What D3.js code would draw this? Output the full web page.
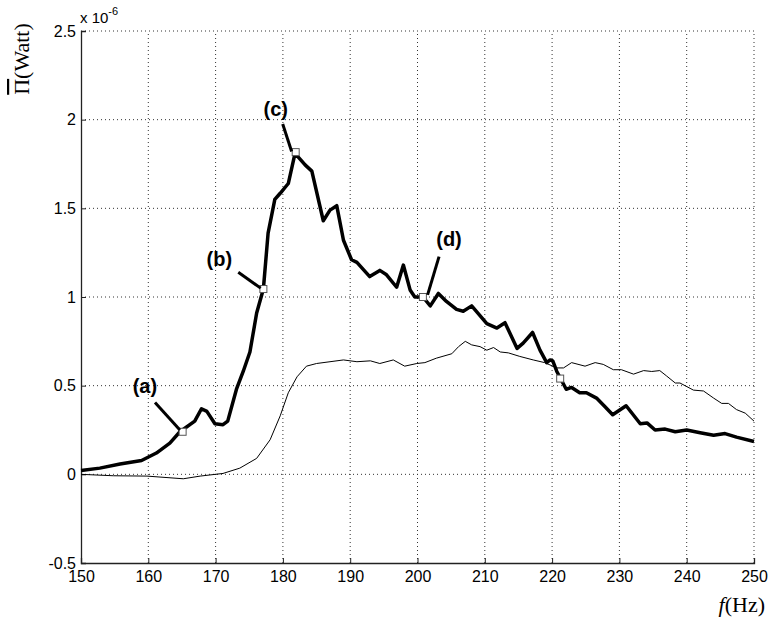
<!DOCTYPE html>
<html><head><meta charset="utf-8">
<script src="https://cdn.jsdelivr.net/npm/d3@7"></script>
<style>body{margin:0;background:#fff}svg{display:block}</style>
</head><body>
<script>
const thickF=[150,152.8,155.8,159.0,161.2,163.2,164.7,166.9,167.9,168.7,169.9,171.1,171.8,173.1,174.1,175.1,176.1,177.1,177.8,178.8,179.6,180.8,181.8,183.3,184.3,186.0,187.0,188.0,189.0,190.2,191.0,192.9,194.4,195.4,196.9,197.9,198.9,199.6,200.8,201.9,203.1,204.3,205.8,206.8,208.05,210.3,211.8,213.0,214.8,215.7,217.1,218.2,219.2,219.7,220.1,220.7,222.1,222.9,224.1,225.1,226.6,227.9,229.0,231.0,233.1,234.1,235.3,236.8,238.3,240.0,242.0,244.0,245.7,247.4,250];
const thickP=[0.022,0.035,0.058,0.078,0.12,0.176,0.24,0.30,0.37,0.355,0.285,0.28,0.30,0.48,0.58,0.69,0.91,1.045,1.36,1.55,1.585,1.64,1.81,1.745,1.71,1.43,1.49,1.515,1.32,1.21,1.195,1.115,1.15,1.125,1.055,1.18,1.04,1.00,1.00,0.95,1.02,0.975,0.93,0.92,0.95,0.85,0.825,0.855,0.71,0.74,0.80,0.70,0.63,0.645,0.64,0.58,0.48,0.49,0.46,0.46,0.43,0.38,0.336,0.387,0.285,0.29,0.25,0.255,0.24,0.25,0.235,0.22,0.23,0.21,0.185];
const thinF=[150,154.8,159.8,165.2,167.7,171.1,173.6,176.1,178.1,179.6,180.8,182.1,183.5,185.0,187.0,189,191,193,194.4,196.4,198.1,199.9,201.1,202.8,205.1,206.1,207.1,208.05,209.3,210.3,211.3,212.3,213.5,215.2,217.2,218.9,220.7,221.7,222.9,224.9,226.4,227.6,229.1,230.3,232.1,233.6,234.8,236.0,237.0,238.3,239.0,241.0,242.5,244.0,245.2,246.2,247.4,248.7,250];
const thinP=[0.0,-0.008,-0.01,-0.025,-0.01,0.005,0.035,0.09,0.195,0.33,0.46,0.55,0.61,0.625,0.635,0.645,0.635,0.64,0.625,0.645,0.61,0.625,0.63,0.655,0.68,0.72,0.75,0.73,0.72,0.70,0.715,0.69,0.685,0.665,0.645,0.63,0.60,0.60,0.63,0.61,0.63,0.62,0.59,0.59,0.565,0.585,0.58,0.585,0.555,0.515,0.515,0.475,0.47,0.43,0.40,0.40,0.365,0.345,0.30];
const markerF=[165.1,177.1,181.9,200.8,221.2];
const markerP=[0.24,1.045,1.817,1.00,0.54];
const annText=["(a)","(b)","(c)","(d)"];
const annLabelF=[159.5,170.55,178.93,204.68];
const annLabelP=[0.50,1.214,2.06,1.326];
const annFromF=[161.0,173.37,179.97,203.2];
const annFromP=[0.405,1.14,1.976,1.228];
const annToF=[164.7,176.7,181.3,201.5];
const annToP=[0.25,1.05,1.82,1.012];
const xTicks=[150,160,170,180,190,200,210,220,230,240,250];
const yTicks=[-0.5,0,0.5,1,1.5,2,2.5];

const W=769,H=619,m={l:81,r:15,t:31,b:56};
const svg=d3.select("body").append("svg").attr("width",W).attr("height",H);
const x=d3.scaleLinear().domain([150,250]).range([m.l,W-m.r]);
const y=d3.scaleLinear().domain([-0.5,2.5]).range([H-m.b,m.t]);

// grid
const g=svg.append("g");
g.selectAll(".gx").data(xTicks.slice(1)).join("line")
 .attr("x1",d=>x(d)).attr("x2",d=>x(d)).attr("y1",y(-0.5)).attr("y2",y(2.5))
 .attr("stroke","#333").attr("stroke-width",1).attr("stroke-dasharray","1,3");
g.selectAll(".gy").data(yTicks.slice(1)).join("line")
 .attr("y1",d=>y(d)).attr("y2",d=>y(d)).attr("x1",x(150)).attr("x2",x(250))
 .attr("stroke","#333").attr("stroke-width",1).attr("stroke-dasharray","1,3");

// axes
const xa=svg.append("g").attr("transform",`translate(0,${y(-0.5)})`)
 .call(d3.axisBottom(x).tickValues(xTicks).tickSize(-5).tickPadding(8).tickFormat(d3.format("d")));
const ya=svg.append("g").attr("transform",`translate(${x(150)},0)`)
 .call(d3.axisLeft(y).tickValues(yTicks).tickSize(-5).tickPadding(5).tickFormat(d=>d===0?"0":String(d)));
[xa,ya].forEach(a=>{
 a.select(".domain").attr("stroke","#222").attr("stroke-width",1.3);
 a.selectAll(".tick line").attr("stroke","#222");
 a.selectAll("text").attr("font-family","Arial, 'Liberation Sans', sans-serif").attr("font-size",16).attr("fill","#000");
});

// lines
const line=d3.line().x(d=>x(d[0])).y(d=>y(d[1]));
svg.append("path").datum(thinF.map((f,i)=>[f,thinP[i]])).attr("d",line)
 .attr("fill","none").attr("stroke","#000").attr("stroke-width",1);
svg.append("path").datum(thickF.map((f,i)=>[f,thickP[i]])).attr("d",line)
 .attr("fill","none").attr("stroke","#000").attr("stroke-width",3.5).attr("stroke-linejoin","round");

// markers
svg.selectAll(".mk").data(markerF.map((f,i)=>[f,markerP[i]])).join("rect")
 .attr("x",d=>x(d[0])-3.5).attr("y",d=>y(d[1])-3.5).attr("width",7).attr("height",7)
 .attr("fill","#fff").attr("stroke","#555").attr("stroke-width",1);

// annotations
svg.selectAll(".al").data(annText.map((t,i)=>i)).join("line")
 .attr("x1",i=>x(annFromF[i])).attr("y1",i=>y(annFromP[i]))
 .attr("x2",i=>x(annToF[i])).attr("y2",i=>y(annToP[i]))
 .attr("stroke","#000").attr("stroke-width",3);
svg.selectAll(".at").data(annText.map((t,i)=>i)).join("text")
 .attr("x",i=>x(annLabelF[i])).attr("y",i=>y(annLabelP[i]))
 .attr("text-anchor","middle").attr("dominant-baseline","central")
 .attr("font-family","Arial, 'Liberation Sans', sans-serif").attr("font-weight","bold").attr("font-size",20)
 .text(i=>annText[i]);

// exponent
const ex=svg.append("text").attr("x",x(150)-1).attr("y",23)
 .attr("font-family","Arial, 'Liberation Sans', sans-serif").attr("font-size",15);
ex.append("tspan").text("x 10");
ex.append("tspan").attr("dy",-8).attr("font-size",11).text("-6");

// y label
const yl=svg.append("text").attr("transform","translate(29,59) rotate(-90)")
 .attr("text-anchor","middle").attr("font-family","'Times New Roman','Liberation Serif',serif").attr("font-size",22);
yl.append("tspan").attr("text-decoration","overline").text("Π");
yl.append("tspan").text("(Watt)");

// x label
const xl=svg.append("text").attr("x",765).attr("y",612).attr("text-anchor","end")
 .attr("font-family","'Times New Roman','Liberation Serif',serif").attr("font-size",22);
xl.append("tspan").attr("font-style","italic").text("f");
xl.append("tspan").text("(Hz)");
</script>
</body></html>
